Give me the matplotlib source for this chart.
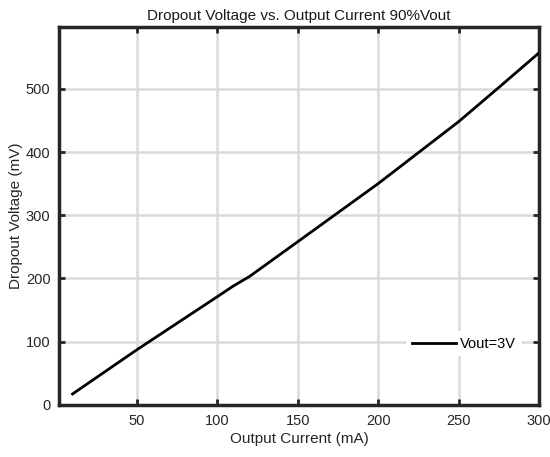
import matplotlib
matplotlib.use("Agg")
import matplotlib.pyplot as plt

current_mA = [10, 50, 100, 110, 120, 150, 200, 250, 274, 300]
dropout_mV = [17, 87, 171, 188, 203, 258, 350, 448, 500, 557]
series_label = "Vout=3V"
xticks = [50, 100, 150, 200, 250, 300]
yticks = [0, 100, 200, 300, 400, 500]

plt.rcParams['font.family'] = ['Liberation Sans', 'DejaVu Sans']

fig = plt.figure(figsize=(5.5, 4.57), dpi=100)
ax = fig.add_axes([0.107, 0.113, 0.873, 0.828])

ax.plot(current_mA, dropout_mV, color='black', linewidth=2.0, label=series_label, zorder=3)

ax.set_xlim(1.5, 300)
ax.set_ylim(-1, 598)
ax.set_xticks(xticks)
ax.set_yticks(yticks)
ax.grid(True, color='#dadada', linewidth=1.8)
ax.set_axisbelow(True)

for s in ax.spines.values():
    s.set_linewidth(2.5)
    s.set_color('#262626')

ax.tick_params(direction='in', length=4, width=2, color='#262626',
               top=True, right=True, labelsize=10.5, labelcolor='#262626', pad=6)

ax.set_title('Dropout Voltage vs. Output Current 90%Vout', fontsize=11, color='#1a1a1a', pad=5)
ax.set_xlabel('Output Current (mA)', fontsize=11, color='#262626', labelpad=3)
ax.set_ylabel('Dropout Voltage (mV)', fontsize=11, color='#262626', labelpad=2)

leg = ax.legend(loc='lower right', bbox_to_anchor=(0.98, 0.11), frameon=True,
                fontsize=10.5, handlelength=3.0, handletextpad=0.3, borderpad=0.4)
leg.get_frame().set_edgecolor('none')
leg.get_frame().set_facecolor('white')
leg.get_frame().set_alpha(1)

fig.savefig('out.png', dpi=100)
